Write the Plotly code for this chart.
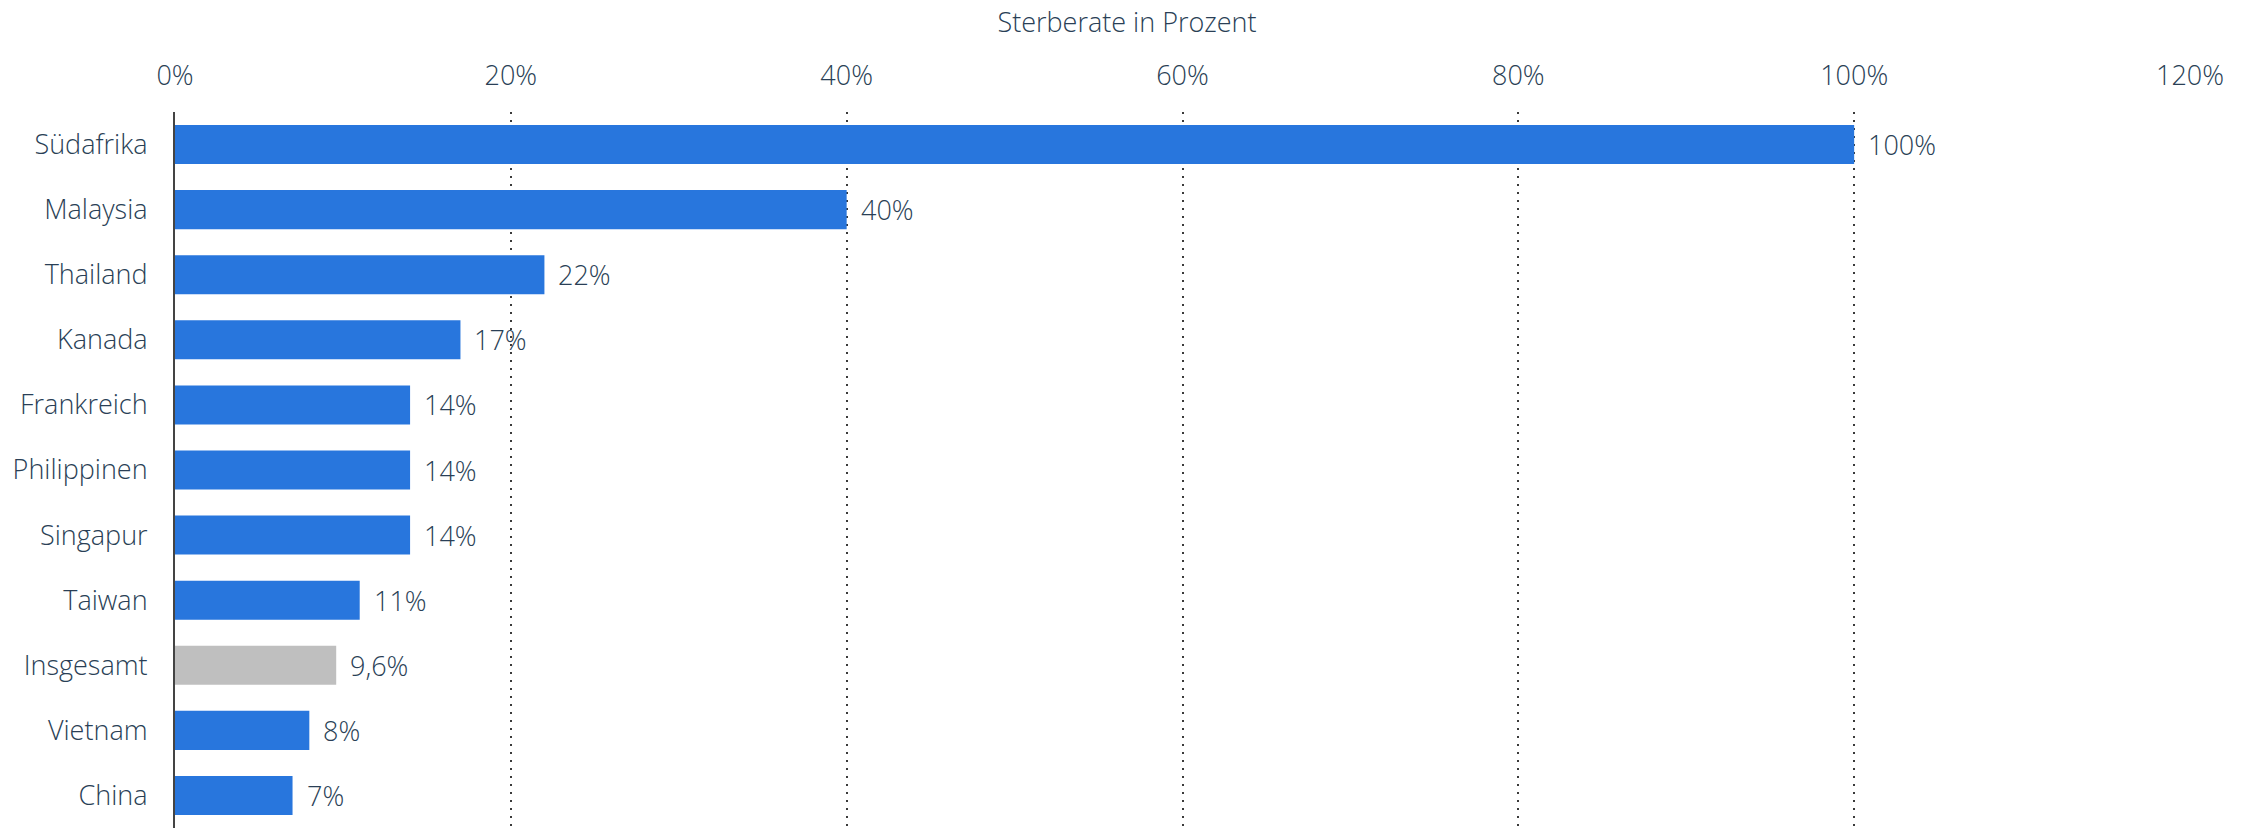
import plotly.graph_objects as go

# Sterberate nach Land (in Prozent)
countries = ["Südafrika", "Malaysia", "Thailand", "Kanada", "Frankreich",
             "Philippinen", "Singapur", "Taiwan", "Insgesamt", "Vietnam", "China"]
rates = [100, 40, 22, 17, 14, 14, 14, 11, 9.6, 8, 7]
x_ticks = [0, 20, 40, 60, 80, 100, 120]

BLUE = "#2876dd"
GREY = "#bfbfbf"
TEXT = "#2a3f56"
FONT = "Open Sans"
SIZE = 27

colors = [GREY if c == "Insgesamt" else BLUE for c in countries]
labels = [(f"{v:g}%").replace(".", ",") for v in rates]

fig = go.Figure()
fig.add_trace(go.Bar(
    x=rates,
    y=countries,
    orientation="h",
    marker=dict(color=colors, line=dict(width=0)),
    width=0.6,
    hoverinfo="skip",
))

for c, v, lab in zip(countries, rates, labels):
    fig.add_annotation(
        x=v, y=c, text=lab, showarrow=False,
        xanchor="left", yanchor="middle", xshift=12,
        font=dict(family=FONT, size=SIZE, color=TEXT, weight=300),
    )

fig.update_layout(
    width=2254, height=828,
    margin=dict(l=175, r=64, t=112, b=0),
    paper_bgcolor="white",
    plot_bgcolor="white",
    showlegend=False,
    bargap=0.4,
    separators=",.",
    font=dict(family=FONT, size=SIZE, color=TEXT, weight=300),
    # axis caption centred over the whole page
    title=dict(
        text="Sterberate in Prozent",
        x=0.5, xref="container", xanchor="center",
        y=1 - 23 / 828, yref="container", yanchor="middle",
        font=dict(family=FONT, size=SIZE, color=TEXT, weight=300),
    ),
    xaxis=dict(
        side="top",
        range=[0, 120],
        tickvals=x_ticks,
        ticktext=[f"{t}%" for t in x_ticks],
        showgrid=True,
        gridcolor="#3a3a3a",
        gridwidth=2,
        griddash="2px,6px",
        zeroline=False,
        showline=False,
        ticks="",
        ticklabelstandoff=21,
        tickfont=dict(family=FONT, size=SIZE, color=TEXT, weight=300),
    ),
    yaxis=dict(
        categoryorder="array",
        categoryarray=countries[::-1],
        showgrid=False,
        zeroline=False,
        showline=True,
        linecolor="#444444",
        linewidth=2,
        ticks="",
        ticklabelstandoff=20,
        tickfont=dict(family=FONT, size=SIZE, color=TEXT, weight=300),
    ),
)

fig.write_html("out.html")
